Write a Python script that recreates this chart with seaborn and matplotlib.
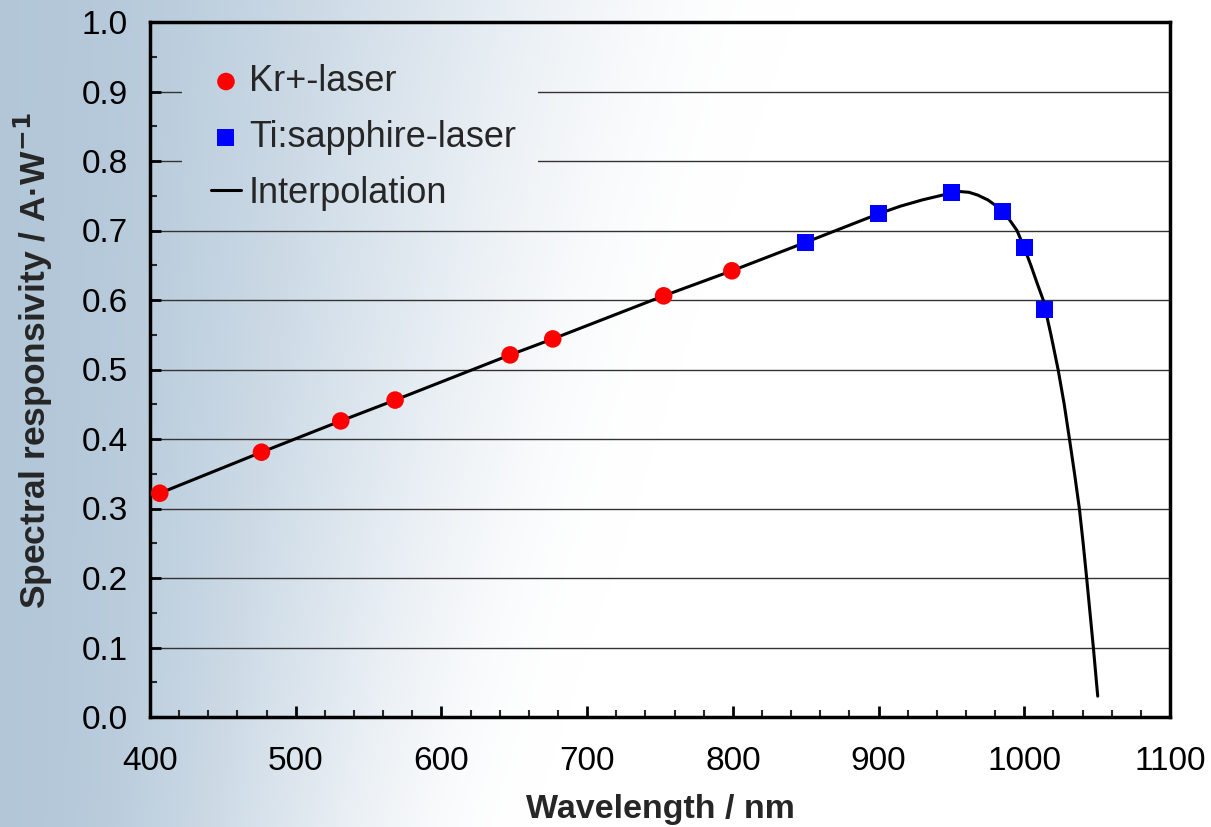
import numpy as np
import pandas as pd
import matplotlib
matplotlib.use("Agg")
import matplotlib.pyplot as plt
import seaborn as sns

# ---- data ----
kr_wavelength = [406.7, 476.5, 530.9, 568.2, 647.1, 676.4, 752.5, 799.3]
kr_resp = [0.322, 0.381, 0.426, 0.456, 0.521, 0.544, 0.606, 0.642]

ti_wavelength = [850, 900, 950, 985, 1000, 1014]
ti_resp = [0.683, 0.724, 0.754, 0.727, 0.675, 0.587]

curve_wavelength = [406.7, 476.5, 530.9, 568.2, 647.1, 676.4, 752.5, 799.3, 850,
                    900, 915, 930, 942, 950, 956, 962, 968, 975, 981, 985, 990,
                    995, 1000, 1004.5, 1009, 1013, 1018.3, 1023.2, 1027.4, 1031,
                    1034.5, 1037.8, 1040.4, 1042.8, 1045.1, 1047.4, 1050.4]
curve_resp = [0.322, 0.381, 0.426, 0.456, 0.521, 0.544, 0.606, 0.642, 0.683,
              0.724, 0.735, 0.744, 0.750, 0.754, 0.756, 0.755, 0.751, 0.744, 0.735,
              0.727, 0.715, 0.700, 0.675, 0.650, 0.623, 0.600, 0.550, 0.500, 0.450,
              0.400, 0.350, 0.300, 0.250, 0.200, 0.150, 0.100, 0.030]

x_ticks = [400, 500, 600, 700, 800, 900, 1000, 1100]
y_ticks = [0.0, 0.1, 0.2, 0.3, 0.4, 0.5, 0.6, 0.7, 0.8, 0.9, 1.0]

sns.set_theme(style="white")
plt.rcParams['font.family'] = ['Liberation Sans', 'DejaVu Sans']

FW, FH = 1211, 827
fig = plt.figure(figsize=(FW / 100, FH / 100), dpi=100)


def backdrop(x0, x1, y0, y1, nx=300, ny=200):
    """Background tint (figure pixel coords, y from top)."""
    xs = np.linspace(x0, x1, nx) / FW
    ys = np.linspace(y0, y1, ny) / FH
    xf, yf = np.meshgrid(xs, ys)
    reach = 0.66 - 0.22 * yf
    t = np.clip(xf / reach, 0, 1)
    t = t * t * (3 - 2 * t)
    base = np.array([0.70, 0.78, 0.85])
    return base[None, None, :] * (1 - t[..., None]) + t[..., None]


bg_ax = fig.add_axes([0, 0, 1, 1], zorder=-10)
bg_ax.imshow(backdrop(0, FW, 0, FH), aspect='auto', extent=[0, 1, 0, 1], origin='upper')
bg_ax.axis('off')

ax = fig.add_axes([150 / FW, 1 - 717 / FH, 1020 / FW, 695 / FH], zorder=0)
ax.set_facecolor('none')

df_curve = pd.DataFrame({'wl': curve_wavelength, 'r': curve_resp})
df_kr = pd.DataFrame({'wl': kr_wavelength, 'r': kr_resp})
df_ti = pd.DataFrame({'wl': ti_wavelength, 'r': ti_resp})

sns.lineplot(data=df_curve, x='wl', y='r', ax=ax, color='black', lw=2.2,
             sort=False, label='Interpolation', zorder=3)
sns.scatterplot(data=df_kr, x='wl', y='r', ax=ax, color='#ff0000', marker='o',
                s=160, edgecolor='none', label='Kr+-laser', zorder=4)
sns.scatterplot(data=df_ti, x='wl', y='r', ax=ax, color='#0000ff', marker='s',
                s=150, edgecolor='none', label='Ti:sapphire-laser', zorder=4)

ax.set_xlim(400, 1100)
ax.set_ylim(0, 1.0)
ax.set_xticks(x_ticks)
ax.set_yticks(y_ticks)
ax.set_xticklabels([str(v) for v in x_ticks])
ax.set_yticklabels([f"{v:.1f}" for v in y_ticks])
ax.set_xticks(np.arange(400, 1101, 20), minor=True)
ax.set_yticks(np.arange(0, 1.001, 0.05), minor=True)

ax.yaxis.grid(True, which='major', color='#333333', lw=1.0)
ax.xaxis.grid(False)
ax.set_axisbelow(True)

ax.tick_params(axis='both', which='major', direction='in', length=8, width=2,
               labelsize=24, colors='black')
ax.tick_params(axis='both', which='minor', direction='in', length=5, width=1.5)
ax.tick_params(axis='x', which='both', bottom=True, top=False, pad=21)
ax.tick_params(axis='y', which='both', left=True, right=False, pad=16)

for sp in ax.spines.values():
    sp.set_visible(True)
    sp.set_color('black')
    sp.set_linewidth(2.5)

ax.set_xlabel('Wavelength / nm', fontsize=24.5, fontweight='bold', labelpad=12)
ax.set_ylabel('Spectral responsivity / A·W$^{\\mathbf{-1}}$', fontsize=25.5,
              fontweight='bold')
ax.yaxis.set_label_coords(-0.093, 0.512)

handles, labels = ax.get_legend_handles_labels()
ax.get_legend().remove()
order = [labels.index('Kr+-laser'), labels.index('Ti:sapphire-laser'),
         labels.index('Interpolation')]

# patch of backdrop behind the legend (hides the grid lines there)
lx0, lx1, ly0, ly1 = 182, 538, 46, 216
ov = fig.add_axes([lx0 / FW, 1 - ly1 / FH, (lx1 - lx0) / FW, (ly1 - ly0) / FH], zorder=1)
ov.imshow(backdrop(lx0, lx1, ly0, ly1, 120, 60), aspect='auto',
          extent=[0, 1, 0, 1], origin='upper')
ov.axis('off')

fig.legend([handles[i] for i in order], [labels[i] for i in order],
           loc='upper left', bbox_to_anchor=(211 / FW, 1 - 64 / FH), fontsize=26,
           frameon=False, handlelength=0.83, handletextpad=0.22, labelspacing=0.58,
           borderpad=0.0, borderaxespad=0.0)

fig.savefig('out.png', dpi=100)
